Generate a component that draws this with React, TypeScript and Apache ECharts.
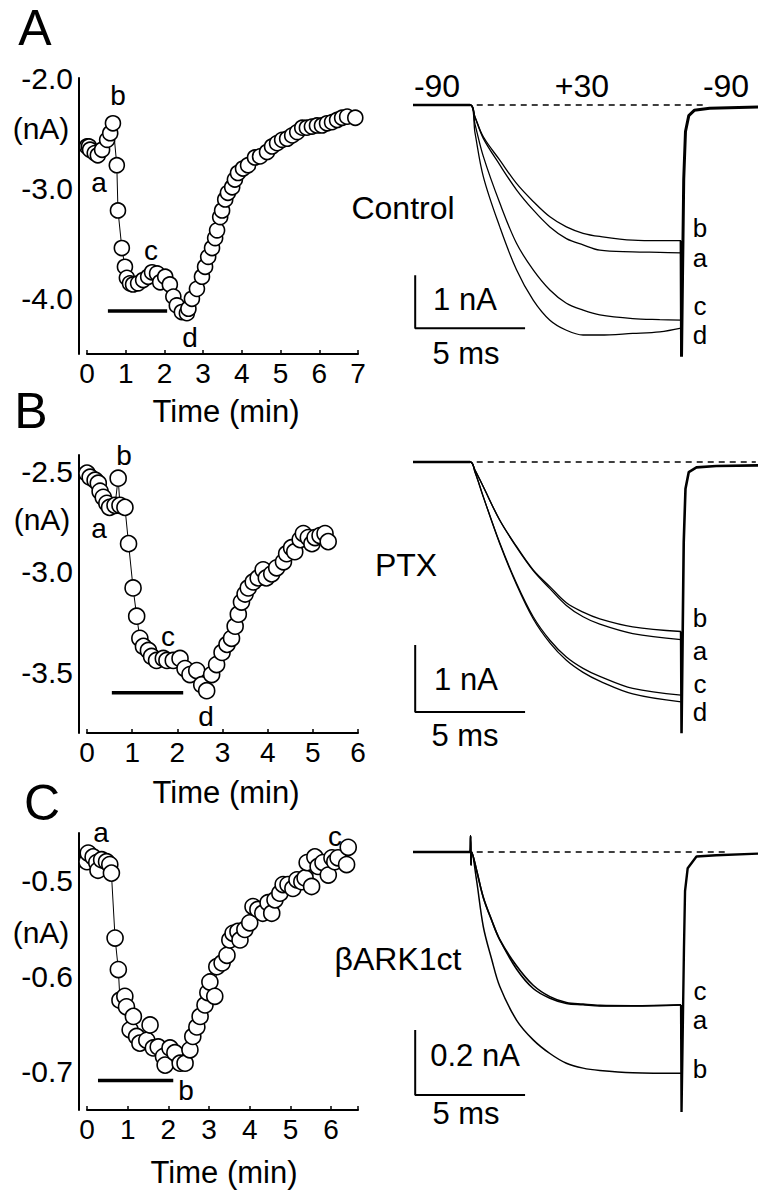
import React, { useEffect, useRef } from "react";
import * as echarts from "echarts";

const FONT = "'Liberation Sans', Arial, Helvetica, sans-serif";

// ---------- Left panels: time courses (min, nA) ----------
const timeA = [0, 0.05, 0.08, 0.2, 0.28, 0.39, 0.52, 0.6, 0.67, 0.77, 0.8, 0.9, 0.98, 1.03, 1.11, 1.19, 1.32, 1.45, 1.58, 1.68, 1.81, 1.89, 2.02, 2.14, 2.23, 2.32, 2.45, 2.58, 2.62, 2.71, 2.84, 2.97, 3.05, 3.13, 3.23, 3.31, 3.36, 3.44, 3.49, 3.57, 3.64, 3.75, 3.82, 3.9, 4.03, 4.16, 4.34, 4.47, 4.65, 4.78, 4.91, 5.04, 5.17, 5.3, 5.43, 5.56, 5.68, 5.81, 5.94, 6.07, 6.2, 6.33, 6.46, 6.59, 6.72, 6.93];
const currentA = [-2.62, -2.62, -2.65, -2.68, -2.7, -2.65, -2.56, -2.5, -2.41, -2.79, -3.2, -3.54, -3.71, -3.81, -3.86, -3.87, -3.86, -3.83, -3.8, -3.76, -3.77, -3.85, -3.8, -3.87, -3.98, -4.06, -4.12, -4.13, -4.09, -4.0, -3.91, -3.8, -3.71, -3.62, -3.54, -3.45, -3.38, -3.26, -3.2, -3.1, -3.04, -2.99, -2.92, -2.86, -2.82, -2.79, -2.72, -2.71, -2.67, -2.62, -2.59, -2.56, -2.55, -2.52, -2.49, -2.45, -2.45, -2.44, -2.43, -2.43, -2.41, -2.4, -2.38, -2.36, -2.35, -2.36];
const drugA = [0.54, 2.07];
const drugLevelA = -4.11;

const timeB = [0, 0.07, 0.18, 0.25, 0.29, 0.36, 0.44, 0.5, 0.62, 0.69, 0.73, 0.84, 0.92, 1.02, 1.1, 1.17, 1.25, 1.36, 1.43, 1.54, 1.69, 1.77, 1.91, 2.06, 2.17, 2.28, 2.43, 2.54, 2.65, 2.76, 2.87, 2.99, 3.1, 3.2, 3.28, 3.35, 3.42, 3.5, 3.57, 3.68, 3.79, 3.9, 3.97, 4.09, 4.2, 4.35, 4.42, 4.53, 4.6, 4.72, 4.79, 4.9, 4.98, 5.05, 5.16, 5.27, 5.34];
const currentB = [-2.51, -2.53, -2.545, -2.56, -2.6, -2.63, -2.66, -2.68, -2.67, -2.535, -2.67, -2.68, -2.86, -3.08, -3.22, -3.33, -3.37, -3.39, -3.42, -3.44, -3.43, -3.44, -3.44, -3.43, -3.48, -3.51, -3.49, -3.56, -3.59, -3.51, -3.46, -3.4, -3.36, -3.33, -3.27, -3.21, -3.15, -3.11, -3.08, -3.05, -3.03, -2.99, -3.03, -3.01, -2.98, -2.95, -2.91, -2.88, -2.9, -2.84, -2.81, -2.83, -2.86, -2.83, -2.82, -2.81, -2.85];
const drugB = [0.55, 2.13];
const drugLevelB = -3.6;

const timeC = [0, 0.03, 0.15, 0.24, 0.27, 0.36, 0.48, 0.56, 0.6, 0.69, 0.77, 0.81, 0.93, 0.97, 1.06, 1.14, 1.22, 1.3, 1.47, 1.55, 1.63, 1.75, 1.88, 1.92, 2.04, 2.16, 2.29, 2.41, 2.53, 2.6, 2.7, 2.78, 2.9, 2.97, 3.02, 3.14, 3.19, 3.32, 3.44, 3.51, 3.59, 3.71, 3.76, 3.88, 4.0, 4.08, 4.2, 4.32, 4.45, 4.54, 4.62, 4.74, 4.82, 4.94, 5.06, 5.16, 5.28, 5.36, 5.41, 5.52, 5.6, 5.68, 5.8, 5.93, 6.02, 6.09, 6.17, 6.38, 6.42];
const currentC = [-0.48, -0.471, -0.475, -0.481, -0.489, -0.478, -0.48, -0.483, -0.492, -0.56, -0.593, -0.625, -0.621, -0.632, -0.656, -0.642, -0.663, -0.67, -0.667, -0.651, -0.675, -0.674, -0.684, -0.693, -0.675, -0.68, -0.691, -0.691, -0.677, -0.663, -0.653, -0.642, -0.63, -0.617, -0.606, -0.621, -0.59, -0.586, -0.578, -0.562, -0.555, -0.553, -0.562, -0.551, -0.544, -0.527, -0.53, -0.534, -0.523, -0.534, -0.52, -0.513, -0.504, -0.504, -0.508, -0.499, -0.501, -0.497, -0.481, -0.506, -0.475, -0.485, -0.481, -0.494, -0.476, -0.48, -0.476, -0.483, -0.465];
const drugC = [0.27, 2.12];
const drugLevelC = -0.709;

// ---------- Right panels: current traces (ms, nA) ----------
const traceTimeA = [0, 2.6, 2.82, 3.2, 3.95, 4.71, 5.47, 6.23, 6.98, 7.74, 8.5, 10.0, 11.23, 12.2];
const traceA_a = [0, 0, -0.23, -0.63, -1.13, -1.6, -1.98, -2.3, -2.52, -2.64, -2.74, -2.77, -2.78, -2.79];
const traceA_b = [0, 0, -0.22, -0.6, -1.04, -1.48, -1.82, -2.11, -2.3, -2.42, -2.48, -2.55, -2.56, -2.56];
const traceA_c = [0, 0, -0.36, -0.97, -1.85, -2.61, -3.11, -3.49, -3.74, -3.87, -3.96, -4.03, -4.05, -4.06];
const traceA_d = [0, 0, -0.52, -1.35, -2.3, -3.11, -3.68, -4.06, -4.25, -4.34, -4.34, -4.31, -4.28, -4.21];
const tailTimeA = [12.2, 12.22, 12.32, 12.4, 12.55, 12.8, 13.5, 15.7];
const tailA = [-2.56, -4.75, -1.4, -0.5, -0.2, -0.1, -0.06, -0.04];

const traceTimeB = [0, 2.6, 2.82, 3.2, 3.95, 4.71, 5.47, 6.23, 6.98, 7.74, 8.5, 10.0, 12.2];
const traceB_a = [0, 0, -0.12, -0.37, -0.87, -1.27, -1.62, -1.89, -2.14, -2.31, -2.42, -2.56, -2.65];
const traceB_b = [0, 0, -0.12, -0.37, -0.87, -1.26, -1.61, -1.86, -2.1, -2.24, -2.34, -2.46, -2.53];
const traceB_c = [0, 0, -0.15, -0.52, -1.21, -1.81, -2.31, -2.66, -2.91, -3.08, -3.2, -3.38, -3.48];
const traceB_d = [0, 0, -0.15, -0.52, -1.22, -1.83, -2.34, -2.7, -2.96, -3.14, -3.27, -3.46, -3.58];
const tailTimeB = [12.2, 12.22, 12.32, 12.4, 12.55, 12.9, 13.8, 15.7];
const tailB = [-2.53, -4.05, -1.2, -0.4, -0.15, -0.08, -0.06, -0.05];

const traceTimeC = [0, 2.6, 2.62, 2.64, 2.67, 2.89, 3.2, 3.58, 3.95, 4.71, 5.47, 6.23, 6.98, 7.74, 8.5, 10.0, 12.2];
const traceC_a = [0, 0, 0.05, -0.04, 0, -0.055, -0.14, -0.21, -0.27, -0.36, -0.42, -0.45, -0.466, -0.47, -0.474, -0.474, -0.471];
const traceC_c = [0, 0, 0.05, -0.04, 0, -0.055, -0.14, -0.21, -0.27, -0.35, -0.41, -0.445, -0.463, -0.468, -0.472, -0.473, -0.47];
const traceC_b = [0, 0, 0.05, -0.04, 0, -0.086, -0.23, -0.33, -0.414, -0.517, -0.578, -0.62, -0.65, -0.665, -0.672, -0.679, -0.681];
const tailTimeC = [12.2, 12.22, 12.33, 12.38, 12.5, 12.9, 13.8, 15.7];
const tailC = [-0.471, -0.8, -0.3, -0.12, -0.05, -0.014, -0.01, -0.005];

// scale bars: [x0, yTop, yBottom, x1]
const scaleA = [0.1, -3.21, -4.21, 5.1];
const scaleB = [0.1, -2.73, -3.73, 5.1];
const scaleC = [0.1, -0.548, -0.748, 5.1];
const dashA = [2.9, 13.3];
const dashB = [2.9, 15.6];
const dashC = [2.9, 14.2];

const zip = (xs: number[], ys: number[]) => xs.map((x, i) => [x, ys[i]]);

function txt(text: string, x: number, y: number, size = 30, extra: any = {}) {
  return {
    type: "text",
    x,
    y,
    style: {
      text,
      fontSize: size,
      fontFamily: FONT,
      fill: "#000",
      align: "center",
      verticalAlign: "middle",
      textAlign: "center",
      textVerticalAlign: "middle",
      lineHeight: size,
      ...extra,
    },
  };
}

export default function App() {
  const ref = useRef<HTMLDivElement>(null);
  useEffect(() => {
    if (!ref.current) return;
    const chart = echarts.init(ref.current, null, { renderer: "svg" });

    const leftX = (max: number, gi: number) => ({
      type: "value",
      gridIndex: gi,
      min: 0,
      max,
      interval: 1,
      axisLine: { show: true, onZero: false, lineStyle: { color: "#000", width: 2 } },
      axisTick: { show: true, inside: true, length: 4, lineStyle: { color: "#000", width: 1.5 } },
      axisLabel: {
        color: "#000",
        fontSize: 28,
        fontFamily: FONT,
        margin: 5,
        formatter: (v: number) => (Math.abs(v - Math.round(v)) < 1e-6 ? String(Math.round(v)) : ""),
      },
      splitLine: { show: false },
    });
    const leftY = (min: number, max: number, interval: number, step: number, gi: number) => ({
      type: "value",
      gridIndex: gi,
      min,
      max,
      interval,
      offset: 8,
      axisLine: { show: true, onZero: false, lineStyle: { color: "#000", width: 2 } },
      axisTick: { show: false },
      axisLabel: {
        color: "#000",
        fontSize: 30,
        fontFamily: FONT,
        margin: 6,
        formatter: (v: number) =>
          Math.abs(v / step - Math.round(v / step)) < 1e-6 ? v.toFixed(1) : "",
      },
      splitLine: { show: false },
    });
    const hiddenX = (gi: number) => ({ type: "value", gridIndex: gi, min: 0, max: 15.7, show: false, splitLine: { show: false } });
    const hiddenY = (gi: number, min: number, max: number) => ({ type: "value", gridIndex: gi, min, max, show: false, splitLine: { show: false } });

    const circles = (t: number[], v: number[], gi: number, size: number) => ({
      type: "line",
      xAxisIndex: gi,
      yAxisIndex: gi,
      data: zip(t, v),
      symbol: "circle",
      symbolSize: size,
      showAllSymbol: true,
      itemStyle: { color: "#fff", borderColor: "#000", borderWidth: 1.6 },
      lineStyle: { color: "#000", width: 1 },
      z: 3,
    });
    const bar = (range: number[], level: number, gi: number) => ({
      type: "line",
      xAxisIndex: gi,
      yAxisIndex: gi,
      data: [[range[0], level], [range[1], level]],
      symbol: "none",
      lineStyle: { color: "#000", width: 3.5 },
      z: 2,
    });
    const trace = (t: number[], v: number[], gi: number, width = 1.3, smooth = true) => ({
      type: "line",
      xAxisIndex: gi,
      yAxisIndex: gi,
      data: zip(t, v),
      symbol: "none",
      smooth: smooth ? 0.35 : false,
      lineStyle: { color: "#000", width },
      z: 2,
    });
    const dashed = (d: number[], gi: number) => ({
      type: "line",
      xAxisIndex: gi,
      yAxisIndex: gi,
      data: [[d[0], 0], [d[1], 0]],
      symbol: "none",
      lineStyle: { color: "#000", width: 1.6, type: [6, 5] },
      z: 1,
    });
    const scaleBar = (s: number[], gi: number) => ({
      type: "line",
      xAxisIndex: gi,
      yAxisIndex: gi,
      data: [[s[0], s[1]], [s[0], s[2]], [s[3], s[2]]],
      symbol: "none",
      lineStyle: { color: "#000", width: 2 },
      z: 2,
    });

    chart.setOption({
      animation: false,
      backgroundColor: "#fff",
      grid: [
        { left: 87, top: 78, width: 271, height: 276 },
        { left: 87, top: 455, width: 271, height: 278 },
        { left: 87, top: 833, width: 271, height: 277 },
        { left: 413, top: 78.5, width: 345, height: 291.5 },
        { left: 413, top: 428.5, width: 345, height: 335 },
        { left: 413, top: 819.5, width: 345, height: 325 },
      ],
      xAxis: [leftX(7, 0), leftX(6, 1), leftX(6.66, 2), hiddenX(3), hiddenX(4), hiddenX(5)],
      yAxis: [
        leftY(-4.5, -2.0, 0.5, 1, 0),
        leftY(-3.8, -2.42, 0.1, 0.5, 1),
        leftY(-0.74, -0.45, 0.02, 0.1, 2),
        hiddenY(3, -5, 0.5),
        hiddenY(4, -4.5, 0.5),
        hiddenY(5, -0.9, 0.1),
      ],
      series: [
        bar(drugA, drugLevelA, 0),
        circles(timeA, currentA, 0, 15),
        bar(drugB, drugLevelB, 1),
        circles(timeB, currentB, 1, 16),
        bar(drugC, drugLevelC, 2),
        circles(timeC, currentC, 2, 16),
        // A traces
        dashed(dashA, 3),
        trace([0, 2.6], [0, 0], 3, 2.6, false),
        trace(traceTimeA, traceA_a, 3),
        trace(traceTimeA, traceA_b, 3),
        trace(traceTimeA, traceA_c, 3),
        trace(traceTimeA, traceA_d, 3),
        trace(tailTimeA, tailA, 3, 3, false),
        scaleBar(scaleA, 3),
        // B traces
        dashed(dashB, 4),
        trace([0, 2.6], [0, 0], 4, 2.6, false),
        trace(traceTimeB, traceB_a, 4),
        trace(traceTimeB, traceB_b, 4),
        trace(traceTimeB, traceB_c, 4),
        trace(traceTimeB, traceB_d, 4),
        trace(tailTimeB, tailB, 4, 2.6, false),
        scaleBar(scaleB, 4),
        // C traces
        dashed(dashC, 5),
        trace([0, 2.6], [0, 0], 5, 2.6, false),
        trace(traceTimeC, traceC_a, 5, 1.6),
        trace(traceTimeC, traceC_c, 5, 1.6),
        trace(traceTimeC, traceC_b, 5, 1.5),
        trace(tailTimeC, tailC, 5, 2.4, false),
        scaleBar(scaleC, 5),
      ],
      graphic: [
        txt("A", 35, 28, 50),
        txt("B", 31, 411, 50),
        txt("C", 42, 803, 50),
        txt("(nA)", 41, 128, 30),
        txt("(nA)", 42, 519, 30),
        txt("(nA)", 41, 932, 30),
        txt("Time (min)", 226, 411, 31),
        txt("Time (min)", 226, 792, 31),
        txt("Time (min)", 224, 1172, 31),
        // left panel point labels
        txt("a", 99, 182, 28), txt("b", 118, 95, 28), txt("c", 151, 250, 28), txt("d", 190, 337, 28),
        txt("b", 124, 455, 28), txt("a", 99, 528, 28), txt("c", 168, 636, 28), txt("d", 206, 716, 28),
        txt("a", 101, 832, 28), txt("b", 186, 1090, 28), txt("c", 335, 836, 28),
        // right panel labels
        txt("-90", 437, 86, 32), txt("+30", 582, 86, 32), txt("-90", 726, 86, 32),
        txt("Control", 403, 208, 32),
        txt("PTX", 406, 565, 32),
        txt("βARK1ct", 398, 959, 32),
        txt("1 nA", 465, 299, 31), txt("5 ms", 466, 353, 31),
        txt("1 nA", 466, 679, 31), txt("5 ms", 465, 735, 31),
        txt("0.2 nA", 475, 1055, 31), txt("5 ms", 466, 1113, 31),
        txt("b", 700, 228, 26), txt("a", 700, 258, 26), txt("c", 700, 306, 26), txt("d", 700, 335, 26),
        txt("b", 700, 618, 26), txt("a", 700, 651, 26), txt("c", 700, 684, 26), txt("d", 700, 712, 26),
        txt("c", 700, 991, 26), txt("a", 700, 1020, 26), txt("b", 700, 1069, 26),
      ],
    });
    return () => chart.dispose();
  }, []);
  return (
    <div
      ref={ref}
      style={{ position: "fixed", left: 0, top: 0, width: 771, height: 1199, background: "#fff" }}
    />
  );
}
